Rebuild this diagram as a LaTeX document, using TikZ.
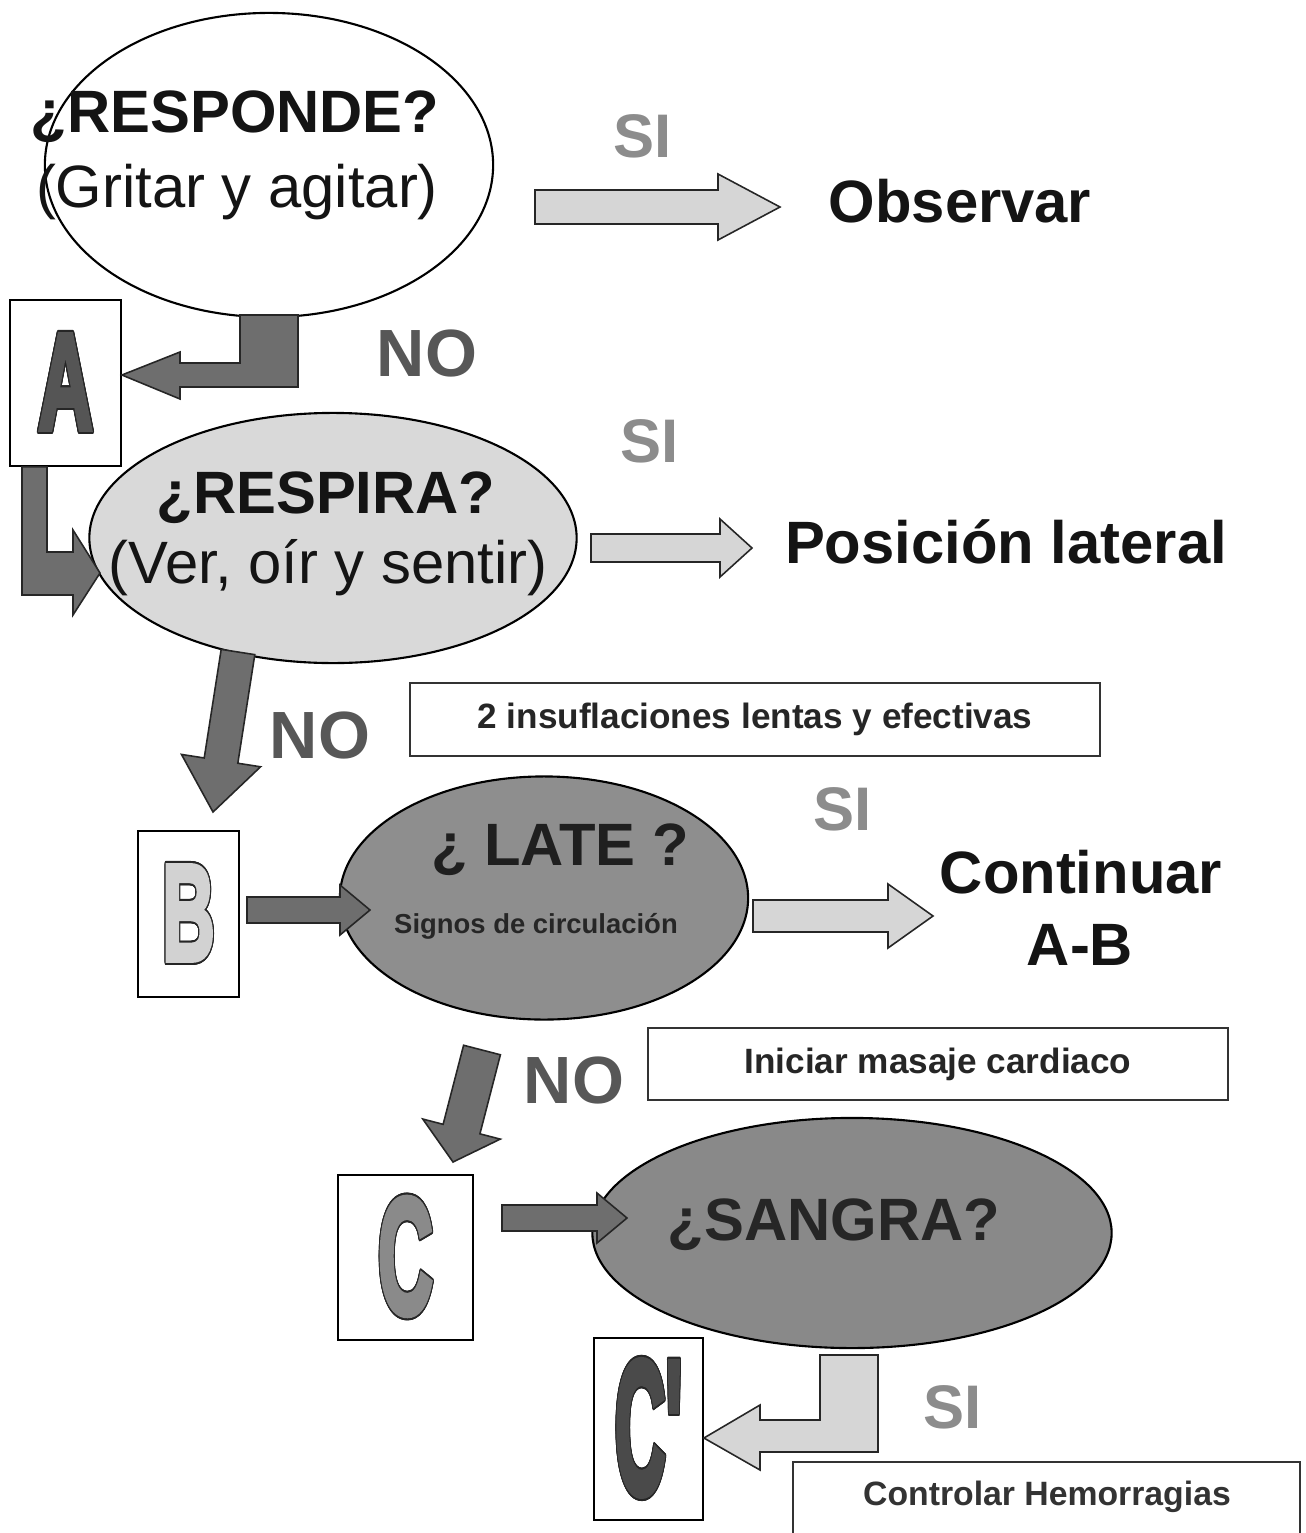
\documentclass[tikz,border=0pt]{standalone}
\usepackage{fontspec}
\setmainfont{Liberation Sans}
\newfontfamily\letterfont{Liberation Sans Bold}[Ligatures=TeXOff, RawFeature={embolden=4}]
\usepackage{graphicx}
\usepackage{contour}
\contourlength{0.6pt}
\usetikzlibrary{shapes.geometric,calc}

\definecolor{darkarrow}{HTML}{6E6E6E}
\definecolor{lightarrow}{HTML}{D6D6D6}
\definecolor{sigray}{HTML}{8C8C8C}
\definecolor{nogray}{HTML}{575757}
\definecolor{respirafill}{HTML}{D9D9D9}
\definecolor{latefill}{HTML}{8E8E8E}
\definecolor{sangrafill}{HTML}{898989}
\definecolor{letraA}{HTML}{555555}
\definecolor{letraB}{HTML}{D2D2D2}
\definecolor{letraC}{HTML}{8A8A8A}
\definecolor{letraCp}{HTML}{4A4A4A}

\tikzset{
  pregunta/.style={ellipse, draw=black, line width=0.6pt, inner sep=0pt},
  letra/.style={draw=black, fill=white, line width=0.5pt, inner sep=0pt},
  caja/.style={draw=black!80, line width=0.5pt, inner sep=0pt,
    font={\fontsize{10}{12}\selectfont\bfseries}, text=black!85},
  grande/.style={font={\fontsize{17}{20}\selectfont\bfseries}, text=black!92,
    inner sep=0pt, anchor=base},
  normal/.style={font={\fontsize{17}{20}\selectfont}, text=black!92,
    inner sep=0pt, anchor=base},
  si/.style={font={\fontsize{17.5}{20}\selectfont\bfseries}, text=sigray,
    inner sep=0pt, anchor=base},
  no/.style={font={\fontsize{19}{22}\selectfont\bfseries}, text=nogray,
    inner sep=0pt, anchor=base},
  flechaoscura/.style={fill=darkarrow, draw=black!85, line width=0.45pt},
  flechaclara/.style={fill=lightarrow, draw=black!85, line width=0.45pt}
}

% letter of a step: horizontal squeeze, colour, text
\newcommand{\letra}[3]{\scalebox{#1}[1]{\contour{black!85}{\textcolor{#2}{#3}}}}

% straight block arrow: style, from, to, half shaft, half head, head length
\newcommand{\blockarrow}[6]{%
  \coordinate (ba-h) at ($(#3)!#6!(#2)$);
  \draw[#1] ($(#2)!#4!90:(#3)$) -- ($(ba-h)!#4!-90:(#2)$) -- ($(ba-h)!#5!-90:(#2)$)
    -- (#3) -- ($(ba-h)!#5!90:(#2)$) -- ($(ba-h)!#4!90:(#2)$)
    -- ($(#2)!#4!-90:(#3)$) -- cycle;
}

\begin{document}
\begin{tikzpicture}[x=0.01cm, y=-0.01cm]
\useasboundingbox (0,0) rectangle (1305,1533);

% ellipses
\node[pregunta, fill=white, minimum width=4.48cm, minimum height=3.04cm] (responde) at (269,165) {};
\node[pregunta, fill=respirafill, minimum width=4.87cm, minimum height=2.5cm] (respira) at (333,538) {};
\node[pregunta, fill=latefill, minimum width=4.08cm, minimum height=2.43cm] (late) at (544,898) {};
\node[pregunta, fill=sangrafill, minimum width=5.19cm, minimum height=2.3cm] (sangra) at (852,1233) {};

% step boxes
\node[letra, minimum width=1.11cm, minimum height=1.66cm, font={\letterfont\fontsize{39}{39}\selectfont}]
  (pasoA) at (65.5,383) {\letra{0.55}{letraA}{A}};
\node[letra, minimum width=1.01cm, minimum height=1.66cm, font={\letterfont\fontsize{39}{39}\selectfont}]
  (pasoB) at (188.5,914) {\letra{0.53}{letraB}{B}};
\node[letra, minimum width=1.35cm, minimum height=1.65cm, font={\letterfont\fontsize{47}{47}\selectfont}]
  (pasoC) at (405.5,1257.5) {\letra{0.46}{letraC}{C}};
\node[letra, minimum width=1.09cm, minimum height=1.82cm, font={\letterfont\fontsize{54}{54}\selectfont}]
  (pasoCp) at (648.5,1429) {\letra{0.37}{letraCp}{C'}};

% elbow arrows
\draw[flechaoscura] (240,315) -- (298,315) -- (298,387) -- (180,387) -- (180,399)
  -- (pasoA.east |- 0,375) -- (180,352) -- (180,363) -- (240,363) -- cycle;
\draw[flechaoscura] (pasoA.south -| 22,0) -- (pasoA.south -| 47,0) -- (47,552) -- (73,552) -- (73,530)
  -- (100,573) -- (73,615) -- (73,595) -- (22,595) -- cycle;
\draw[flechaclara] (820,1355) -- (878,1355) -- (878,1452) -- (760,1452) -- (760,1470)
  -- (pasoCp.east |- 0,1438) -- (760,1405) -- (760,1420) -- (820,1420) -- cycle;

% straight arrows
\coordinate (si1a) at (535,207);  \coordinate (si1b) at (780,207);
\coordinate (si2a) at (591,548);  \coordinate (si2b) at (752,548);
\coordinate (si3a) at (753,916);  \coordinate (si3b) at (933,916);
\coordinate (ba) at (247,910);    \coordinate (bb) at (370,910);
\coordinate (ca) at (502,1218);   \coordinate (cb) at (627,1218);
\coordinate (no2a) at (238,652);  \coordinate (no2b) at (213,812);
\coordinate (no3a) at (482,1050); \coordinate (no3b) at (453,1162);
\blockarrow{flechaclara}{si1a}{si1b}{0.17cm}{0.33cm}{0.62cm}
\blockarrow{flechaclara}{si2a}{si2b}{0.14cm}{0.29cm}{0.32cm}
\blockarrow{flechaclara}{si3a}{si3b}{0.16cm}{0.32cm}{0.45cm}
\blockarrow{flechaoscura}{ba}{bb}{0.13cm}{0.25cm}{0.30cm}
\blockarrow{flechaoscura}{ca}{cb}{0.13cm}{0.25cm}{0.30cm}
\blockarrow{flechaoscura}{no2a}{no2b}{0.17cm}{0.40cm}{0.52cm}
\blockarrow{flechaoscura}{no3a}{no3b}{0.19cm}{0.40cm}{0.34cm}

% texts
\node[grande] (respT) at (235,132) {¿RESPONDE?};
\node[normal] (respS) at (237,207) {(Gritar y agitar)};
\node[grande] (respiT) at (326,513) {¿RESPIRA?};
\node[normal] (respiS) at (328,583) {(Ver, oír y sentir)};
\node[grande, text=black!88] (lateT) at (560,865) {¿ LATE ?};
\node[font={\fontsize{7.8}{9}\selectfont\bfseries}, text=black!85, inner sep=0pt, anchor=base]
  (lateS) at (536,933) {Signos de circulación};
\node[grande, text=black!85] (sangraT) at (834,1240) {¿SANGRA?};

\node[grande] (observar) at (960,222) {Observar};
\node[grande] (lateral) at (1006,563) {Posición lateral};
\node[grande] (continuar) at (1081,893) {Continuar};
\node[grande] (ab) at (1080,965) {A-B};

\node[si] (si1) at (643,157) {SI};
\node[si] (si2) at (650,462) {SI};
\node[si] (si3) at (843,830) {SI};
\node[si] (si4) at (953,1428) {SI};
\node[no] (no1) at (427,376) {NO};
\node[no] (no2) at (320,758) {NO};
\node[no] (no3) at (574,1103) {NO};

\node[caja, minimum width=6.9cm, minimum height=0.73cm] (insufla) at (755,719.5)
  {2 insuflaciones lentas y efectivas};
\node[caja, minimum width=5.8cm, minimum height=0.72cm] (masaje) at (938,1064)
  {Iniciar masaje cardiaco};
\draw[draw=black!80, line width=0.5pt] (793,1545) |- (1300,1462) -- (1300,1545);
\node[font={\fontsize{9.6}{11}\selectfont\bfseries}, text=black!80, inner sep=0pt, anchor=base]
  (hemorragia) at (1047,1505) {Controlar Hemorragias};
\end{tikzpicture}
\end{document}
